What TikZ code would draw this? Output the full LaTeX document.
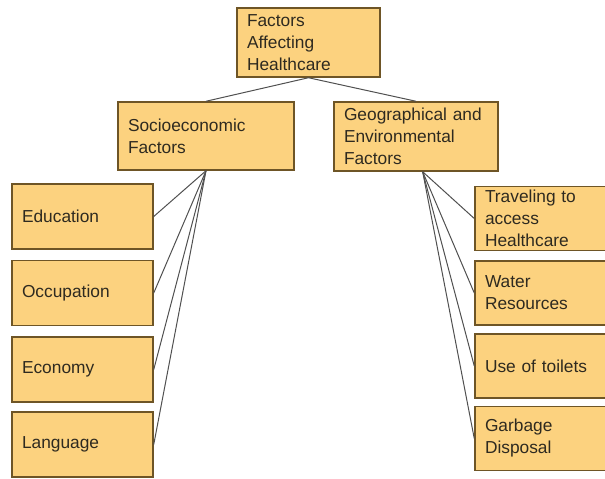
\documentclass[tikz,border=0pt]{standalone}
\usepackage{fontspec}
\setmainfont{Liberation Sans}
\definecolor{boxfill}{HTML}{FCD27F}
\definecolor{boxedge}{HTML}{6E5526}
\definecolor{linkgray}{HTML}{505050}
\definecolor{textdark}{HTML}{2E2A20}
\tikzset{
  factorbox/.style={draw=boxedge, fill=boxfill, line width=1.1pt, text=textdark,
    inner xsep=7.5pt, inner ysep=0pt, align=left,
    font=\fontsize{13}{16.5}\selectfont},
  link/.style={draw=linkgray, line width=0.75pt}
}

\begin{document}
\begin{tikzpicture}[x=0.75pt, y=-0.75pt]
  \useasboundingbox (0,0) rectangle (605,478);
  % main boxes
  \node[factorbox, minimum width=107.25pt, minimum height=51.75pt, text width=92.25pt]
    (top) at (308.5,42.5) {Factors\\Affecting\\Healthcare};
  \node[factorbox, minimum width=132pt, minimum height=51pt, text width=117pt]
    (socio) at (206,136) {Socioeconomic\\Factors};
  \node[factorbox, minimum width=123pt, minimum height=51.75pt, text width=108pt]
    (geo) at (416,136.5) {Geographical and\\Environmental\\Factors};
  \draw[link] (top.south) -- (socio.north);
  \draw[link] (top.south) -- (geo.north);
  % socioeconomic branch
  \foreach \name/\yc/\txt in {edu/216.5/Education, occ/293/Occupation,
                              eco/369.5/Economy, lang/444.5/Language}{
    \node[factorbox, minimum width=105.75pt, minimum height=48.75pt, text width=90.75pt]
      (\name) at (82.5,\yc) {\txt};
    \draw[link] (socio.south) -- (\name.east);
  }
  % geographical branch
  \foreach \name/\yc/\txt in {travel/218.5/{Traveling to\\access\\Healthcare},
                              water/293/{Water\\Resources},
                              toilet/366/{Use of toilets},
                              garbage/438.5/{Garbage\\Disposal}}{
    \node[factorbox, minimum width=99.75pt, minimum height=48pt, text width=84.75pt]
      (\name) at (541.5,\yc) {\txt};
    \draw[link] ([xshift=5pt]geo.south) -- (\name.west);
  }
\end{tikzpicture}
\end{document}
